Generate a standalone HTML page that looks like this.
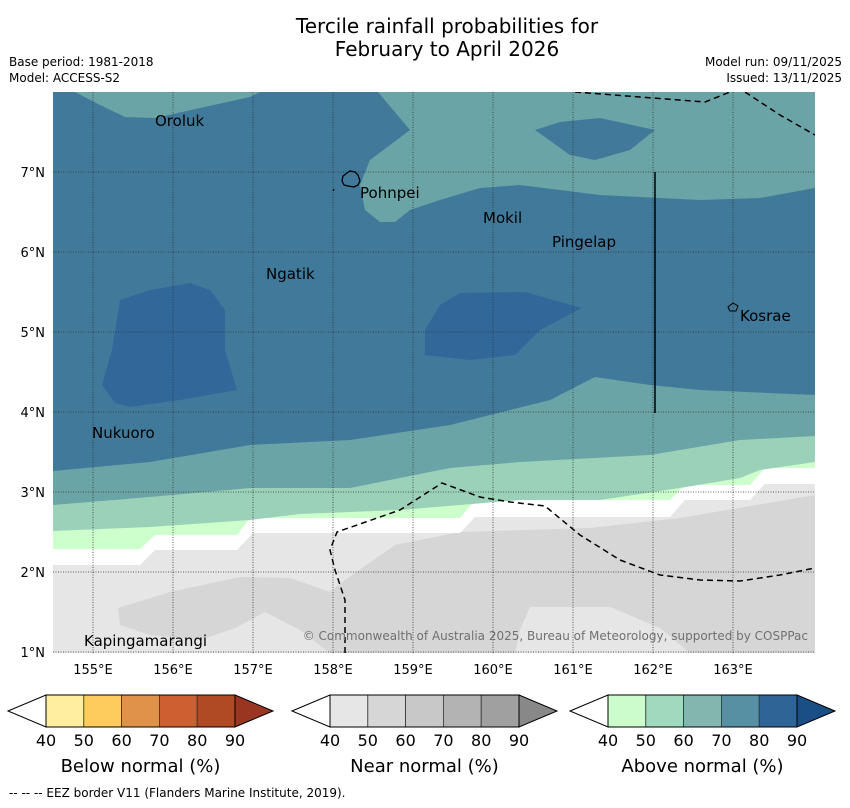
<!DOCTYPE html>
<html><head><meta charset="utf-8"><style>
body{margin:0;background:#fff;width:850px;height:804px;overflow:hidden;font-family:"DejaVu Sans","Liberation Sans",sans-serif}
</style></head><body>
<svg id="fig" width="850" height="804" viewBox="0 0 850 804" xmlns="http://www.w3.org/2000/svg" font-family="DejaVu Sans, Liberation Sans, sans-serif">
<text x="447" y="33" font-size="20" text-anchor="middle">Tercile rainfall probabilities for</text>
<text x="447" y="56" font-size="20" text-anchor="middle">February to April 2026</text>
<text x="9" y="66" font-size="12">Base period: 1981-2018</text>
<text x="9" y="82" font-size="12">Model: ACCESS-S2</text>
<text x="842" y="66" font-size="12" text-anchor="end">Model run: 09/11/2025</text>
<text x="842" y="82" font-size="12" text-anchor="end">Issued: 13/11/2025</text>
<defs><clipPath id="mc"><rect x="53" y="92" width="762" height="561"/></clipPath></defs>
<g clip-path="url(#mc)">
<rect x="53" y="92" width="762" height="561" fill="#e6e6e6"/>
<polygon fill="#d6d6d6" points="118,608 170,592 240,577 290,578 330,592 345,580 395,545 460,532 590,528 680,518 815,495 815,653 690,653 660,628 610,607 530,607 520,630 515,653 330,653 300,630 265,612 235,628 200,640 150,635 120,625"/>
<polygon fill="#ffffff" points="53,92 815,92 815,484 765,484 750,500 685,500 670,517 475,517 460,533 253,533 237,550 155,550 140,565 53,565"/>
<polygon fill="#ccffcc" points="53,92 815,92 815,468 765,468 750,485 685,485 670,500 475,500 460,518 250,518 237,535 155,535 140,549 53,549"/>
<polygon fill="#9bd1b8" points="53,92 815,92 815,462 760,470 740,478 680,488 600,500 520,500 460,505 400,510 300,514 250,520 150,527 53,531"/>
<polygon fill="#6ba4a6" points="53,92 815,92 815,436 740,440 650,455 520,462 450,468 350,488 250,488 150,497 53,505"/>
<polygon fill="#41799a" points="53,92 815,92 815,395 700,390 650,385 595,377 550,400 450,425 350,440 250,445 150,462 53,471"/>
<polygon fill="#6ba4a6" points="75,92 100,105 125,117 155,118 200,108 250,97 260,92"/>
<polygon fill="#6ba4a6" points="378,92 410,130 370,160 360,185 365,210 380,222 395,222 410,210 440,200 480,188 520,185 560,190 600,195 660,198 700,200 760,198 815,188 815,92"/>
<polygon fill="#41799a" points="535,130 560,122 600,118 655,130 630,150 595,160 570,155"/>
<polygon fill="#31689a" points="120,300 150,290 190,283 210,290 225,310 225,350 237,390 180,400 130,407 115,403 102,385 112,350"/>
<polygon fill="#31689a" points="425,330 440,305 460,293 525,292 582,308 540,330 515,355 470,360 425,355"/>
<g id="grid"></g>
<polyline fill="none" stroke="#000" stroke-width="1.5" stroke-dasharray="6,4" points="575,92 640,97 705,102 735,90"/>
<polyline fill="none" stroke="#000" stroke-width="1.5" stroke-dasharray="6,4" points="745,92 780,115 815,135"/>
<polyline fill="none" stroke="#000" stroke-width="1.5" stroke-dasharray="6,4" points="345,653 345,600 335,570 330,550 337,532 400,510 442,483 480,497 510,502 545,506 580,535 620,560 660,575 700,580 740,581 780,575 815,568"/>
<line x1="655" y1="172" x2="655" y2="413" stroke="#000" stroke-width="1.5"/>
<path d="M343,176 l4,-3 3,-2 5,1 3,3 2,6 -2,4 -4,2 -6,-1 -4,-1 -2,-4z" fill="none" stroke="#000" stroke-width="1.3"/>
<line x1="334" y1="189" x2="333" y2="191" stroke="#000" stroke-width="1.2"/>
<path d="M728,307 l5,-4 5,3 -2,5 -6,0z" fill="none" stroke="#000" stroke-width="1"/>
<g font-size="15" fill="#000">
<text x="155" y="126">Oroluk</text>
<text x="360" y="198">Pohnpei</text>
<text x="483" y="223">Mokil</text>
<text x="552" y="247">Pingelap</text>
<text x="266" y="279">Ngatik</text>
<text x="740" y="321">Kosrae</text>
<text x="92" y="438">Nukuoro</text>
<text x="84" y="646">Kapingamarangi</text>
</g>
<text x="808" y="640" font-size="12" fill="#707070" text-anchor="end">© Commonwealth of Australia 2025, Bureau of Meteorology, supported by COSPPac</text>
</g>
<g id="ticks"></g>
<g id="bars"></g>
<text x="9" y="797" font-size="12">--  --  -- EEZ border V11 (Flanders Marine Institute, 2019).</text>
</svg>
<script>
const lonTicks=[155,156,157,158,159,160,161,162,163];
const latTicks=[1,2,3,4,5,6,7];
const cbLabels=[40,50,60,70,80,90];
const belowColors=["#ffeda0","#fecc5c","#e0924a","#cc6030","#b04a25"];
const nearColors=["#e6e6e6","#d6d6d6","#c8c8c8","#b3b3b3","#a0a0a0"];
const aboveColors=["#ccfccc","#a0d9bd","#82b6ae","#5890a3","#2f6497"];
const endColors={below:"#993520",near:"#888888",above:"#1a4f85"};
const NS="http://www.w3.org/2000/svg";
const xLon=l=>93+(l-155)*80, yLat=l=>652-(l-1)*80;
function mk(t,a,p){const e=document.createElementNS(NS,t);for(const k in a)e.setAttribute(k,a[k]);p.appendChild(e);return e;}
const grid=document.getElementById('grid'),ticks=document.getElementById('ticks');
lonTicks.forEach(l=>{const x=xLon(l);
 const g=mk('line',{x1:x,y1:92,x2:x,y2:653,stroke:'#333','stroke-width':0.8,'stroke-dasharray':'1,1.5'},grid);
 
 
 const t=mk('text',{x:x,y:674,'font-size':13,'text-anchor':'middle'},ticks);t.textContent=l+'°E';
 
 });
latTicks.forEach(l=>{const y=yLat(l);
 const g=mk('line',{x1:53,y1:y,x2:815,y2:y,stroke:'#333','stroke-width':0.8,'stroke-dasharray':'1,1.5'},grid);
 
 
 const t=mk('text',{x:45,y:y+5,'font-size':13,'text-anchor':'end'},ticks);t.textContent=l+'°N';
 
 });
const bars=document.getElementById('bars');
function colorbar(x0,cols,end,title,nm){
 const w=37.8,y0=695,h=32,bx=x0+38;
 const l=mk('polygon',{points:`${x0},${y0+h/2} ${bx},${y0} ${bx},${y0+h}`,fill:'#fff',stroke:'#000','stroke-width':1},bars);
 
 
 cols.forEach((c,i)=>{const r=mk('rect',{x:bx+i*w,y:y0,width:w,height:h,fill:c,stroke:'#333','stroke-width':0.8},bars);
  
  });
 const ex=bx+5*w;
 const r=mk('polygon',{points:`${ex},${y0} ${ex+38},${y0+h/2} ${ex},${y0+h}`,fill:end,stroke:'#000','stroke-width':1},bars);
 
 
 mk('rect',{x:bx,y:y0,width:5*w,height:h,fill:'none',stroke:'#000','stroke-width':1},bars);
 cbLabels.forEach((v,i)=>{const t=mk('text',{x:bx+i*w,y:746,'font-size':16,'text-anchor':'middle'},bars);t.textContent=v;
  
  });
 const t=mk('text',{x:bx+2.5*w,y:772,'font-size':18,'text-anchor':'middle'},bars);t.textContent=title;
 
 
}
colorbar(8,belowColors,endColors.below,'Below normal (%)','below-normal-colorbar');
colorbar(292,nearColors,endColors.near,'Near normal (%)','near-normal-colorbar');
colorbar(570,aboveColors,endColors.above,'Above normal (%)','above-normal-colorbar');
</script>
</body></html>
